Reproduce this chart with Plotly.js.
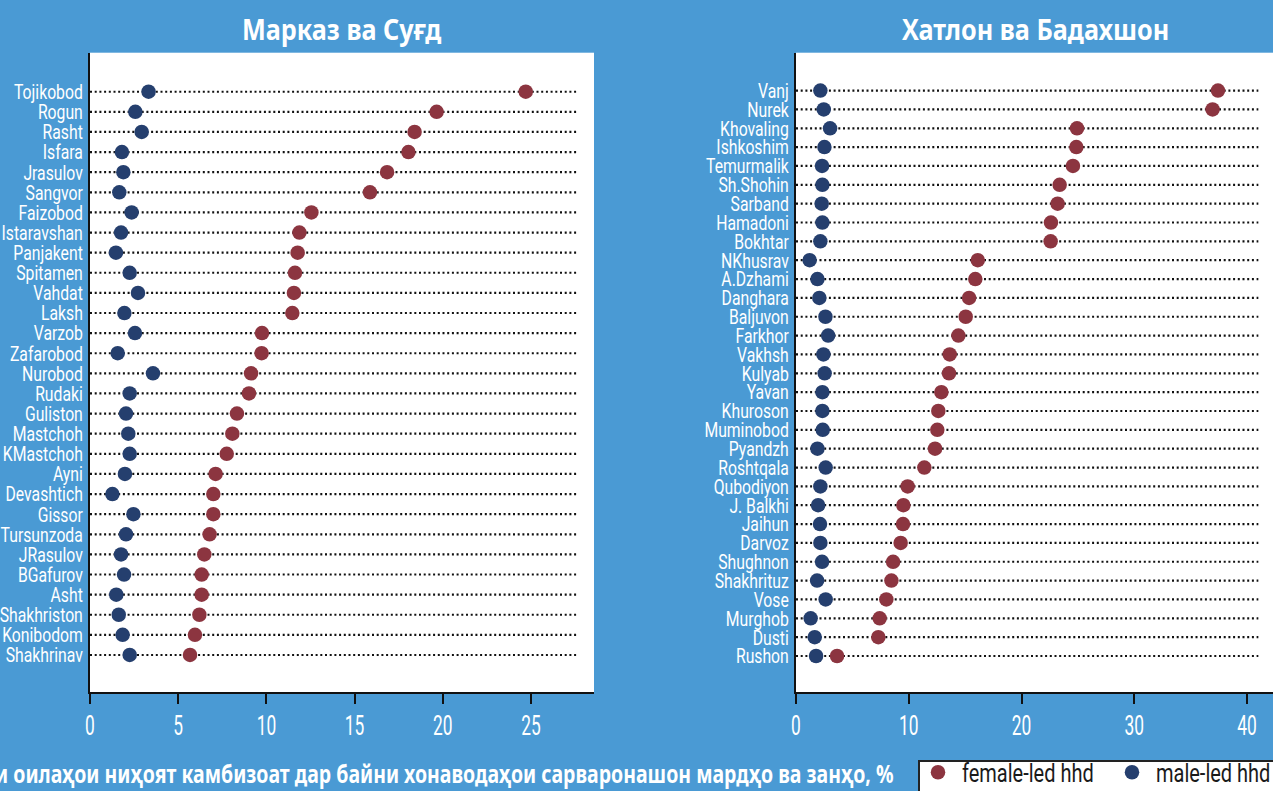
<!DOCTYPE html>
<html>
<head>
<meta charset="utf-8">
<script src="https://cdn.plot.ly/plotly-3.0.1.min.js"></script>
<style>
html, body { margin: 0; padding: 0; overflow: hidden; background: #4A9AD4; }
#chart { width: 1273px; height: 791px; }
</style>
</head>
<body>
<div id="chart"></div>
<script>
// ---- Data: left panel (Марказ ва Суғд) ----
const leftNames = ["Tojikobod","Rogun","Rasht","Isfara","Jrasulov","Sangvor","Faizobod","Istaravshan","Panjakent","Spitamen","Vahdat","Laksh","Varzob","Zafarobod","Nurobod","Rudaki","Guliston","Mastchoh","KMastchoh","Ayni","Devashtich","Gissor","Tursunzoda","JRasulov","BGafurov","Asht","Shakhriston","Konibodom","Shakhrinav"];
const leftFemale = [24.7,19.65,18.4,18.05,16.84,15.87,12.55,11.87,11.77,11.62,11.56,11.47,9.75,9.73,9.13,9.01,8.33,8.07,7.75,7.12,6.99,6.99,6.78,6.48,6.33,6.33,6.2,5.95,5.67];
const leftMale = [3.32,2.57,2.93,1.81,1.89,1.66,2.36,1.76,1.47,2.25,2.72,1.95,2.55,1.57,3.57,2.25,2.04,2.17,2.25,1.98,1.27,2.46,2.04,1.76,1.93,1.49,1.63,1.85,2.25];

// ---- Data: right panel (Хатлон ва Бадахшон) ----
const rightNames = ["Vanj","Nurek","Khovaling","Ishkoshim","Temurmalik","Sh.Shohin","Sarband","Hamadoni","Bokhtar","NKhusrav","A.Dzhami","Danghara","Baljuvon","Farkhor","Vakhsh","Kulyab","Yavan","Khuroson","Muminobod","Pyandzh","Roshtqala","Qubodiyon","J. Balkhi","Jaihun","Darvoz","Shughnon","Shakhrituz","Vose","Murghob","Dusti","Rushon"];
const rightFemale = [37.42,36.94,24.92,24.86,24.56,23.38,23.2,22.61,22.58,16.12,15.9,15.35,15.05,14.4,13.63,13.57,12.89,12.62,12.53,12.33,11.38,9.9,9.52,9.49,9.28,8.61,8.46,8.01,7.42,7.3,3.64];
const rightMale = [2.16,2.46,3.02,2.52,2.31,2.34,2.28,2.34,2.16,1.21,1.9,2.07,2.61,2.85,2.43,2.54,2.34,2.34,2.37,1.9,2.63,2.16,1.96,2.13,2.16,2.31,1.87,2.63,1.3,1.66,1.78];

// dotted guide lines run from 0 to these values
const guideEnd = [27.7, 41.0];

const panelTitles = ["Марказ ва Суғд", "Хатлон ва Бадахшон"];
const seriesNames = ["female-led hhd", "male-led hhd"];
const caption = "Ҳиссаи оилаҳои ниҳоят камбизоат дар байни хонаводаҳои сарваронашон мардҳо ва занҳо, %";

// ---- Styles ----
const BG = "#4A9AD4";
const RED = "#8C3540";
const BLUE = "#253F6E";
const THIN = "Roboto, 'Liberation Sans', sans-serif";
const BOLD = "'Noto Sans', 'Open Sans', sans-serif";

function guides(names, end, xa, ya) {
  const x = [], y = [];
  names.forEach(n => { x.push(0, end, null); y.push(n, n, null); });
  return {type: "scatter", mode: "lines", x, y, xaxis: xa, yaxis: ya,
    line: {color: "#111", width: 2.2, dash: "2px,2.7px"}, showlegend: false, hoverinfo: "skip"};
}
function dots(names, vals, color, name, xa, ya, show) {
  return {type: "scatter", mode: "markers", x: vals, y: names, xaxis: xa, yaxis: ya,
    name, showlegend: show, legendgroup: name,
    marker: {color, size: 14.5, line: {width: 0}}, cliponaxis: false};
}

const data = [
  guides(leftNames, guideEnd[0], "x", "y"),
  guides(rightNames, guideEnd[1], "x2", "y2"),
  dots(leftNames, leftFemale, RED, seriesNames[0], "x", "y", true),
  dots(leftNames, leftMale, BLUE, seriesNames[1], "x", "y", true),
  dots(rightNames, rightFemale, RED, seriesNames[0], "x2", "y2", false),
  dots(rightNames, rightMale, BLUE, seriesNames[1], "x2", "y2", false)
];

const W = 1273, H = 791;
const xAxisCommon = {
  showgrid: false, zeroline: false, showline: true, linecolor: "#111", linewidth: 2,
  ticks: "outside", ticklen: 10, tickwidth: 2, tickcolor: "#111", ticklabelstandoff: -3,
  tickfont: {family: THIN, size: 28, color: "#fff"}, fixedrange: true
};
const yAxisCommon = {
  type: "category", showgrid: false, zeroline: false, showline: true, linecolor: "#111", linewidth: 2,
  ticks: "", tickfont: {family: THIN, size: 21, color: "#fff"}, ticklabelstandoff: 1,
  tickmode: "array", fixedrange: true, domain: [1 - 692 / H, 1 - 52.7 / H]
};

const layout = {
  width: W, height: H,
  margin: {l: 0, r: 0, t: 0, b: 0, autoexpand: false},
  paper_bgcolor: BG, plot_bgcolor: "#fff",
  hovermode: false,
  xaxis: Object.assign({}, xAxisCommon, {domain: [90 / W, 594 / W], range: [0, 28.57], dtick: 5, tick0: 0, anchor: "y"}),
  xaxis2: Object.assign({}, xAxisCommon, {domain: [796 / W, 1], range: [0, 42.3], dtick: 10, tick0: 0, anchor: "y2"}),
  yaxis: Object.assign({}, yAxisCommon, {anchor: "x", categoryorder: "array", categoryarray: leftNames, tickvals: leftNames, ticktext: leftNames, range: [leftNames.length - 1 + 1.84, -1.94]}),
  yaxis2: Object.assign({}, yAxisCommon, {anchor: "x2", categoryorder: "array", categoryarray: rightNames, tickvals: rightNames, ticktext: rightNames, range: [rightNames.length - 1 + 1.91, -2.01]}),
  showlegend: true,
  legend: {
    orientation: "h", x: 918 / W, y: 1 - 760 / H, xanchor: "left", yanchor: "top",
    bgcolor: "#fff", bordercolor: "#222", borderwidth: 1.5,
    font: {family: THIN, size: 25, color: "#1a1a1a"}, entrywidth: 149, itemclick: false, itemdoubleclick: false
  },
  annotations: [
    {text: "<b>" + panelTitles[0] + "</b>", xref: "paper", yref: "paper", x: 342 / W, y: 1 - 28 / H, xanchor: "center", yanchor: "middle", showarrow: false, font: {family: BOLD, size: 29, color: "#fff"}},
    {text: "<b>" + panelTitles[1] + "</b>", xref: "paper", yref: "paper", x: 1035 / W, y: 1 - 28 / H, xanchor: "center", yanchor: "middle", showarrow: false, font: {family: BOLD, size: 29, color: "#fff"}},
    {text: "<b>" + caption + "</b>", xref: "paper", yref: "paper", x: 896 / W, y: 1 - 773 / H, xanchor: "right", yanchor: "middle", showarrow: false, font: {family: BOLD, size: 25, color: "#fff"}}
  ]
};

// Horizontally condense rendered texts (the reference uses a narrow typeface)
function squeezeEls(els, s, pivot, dx, dy) {
  els.forEach(t => {
    if (!t) return;
    let px;
    if (pivot === "right") { const b = t.getBBox(); px = b.x + b.width; }
    else { px = parseFloat(t.getAttribute("x")) || 0; }
    const tr = t.getAttribute("transform") || "";
    t.setAttribute("transform", tr + " translate(" + (px + (dx || 0)) + "," + (dy || 0) + ") scale(" + s + ",1) translate(" + (-px) + ",0)");
  });
}
function shift(els, dx, dy) {
  els.forEach(t => {
    const tr = t.getAttribute("transform") || "";
    t.setAttribute("transform", tr + " translate(" + dx + "," + dy + ")");
  });
}

const gd = document.getElementById("chart");
Plotly.newPlot(gd, data, layout, {displayModeBar: false, staticPlot: true}).then(() => {
  const q = s => Array.from(gd.querySelectorAll(s));
  squeezeEls(q(".ytick text, .y2tick text"), 0.75, "anchor");
  squeezeEls(q(".xtick text, .x2tick text"), 0.62, "anchor");
  shift(q(".legend .traces"), 0, -12);
  squeezeEls(q(".legendtext"), 0.8, "anchor", 4, 0);
  const ann = q(".annotation-text");
  squeezeEls([ann[0], ann[1]], 0.87, "anchor");
  squeezeEls([ann[2]], 0.78, "right");
});
</script>
</body>
</html>
